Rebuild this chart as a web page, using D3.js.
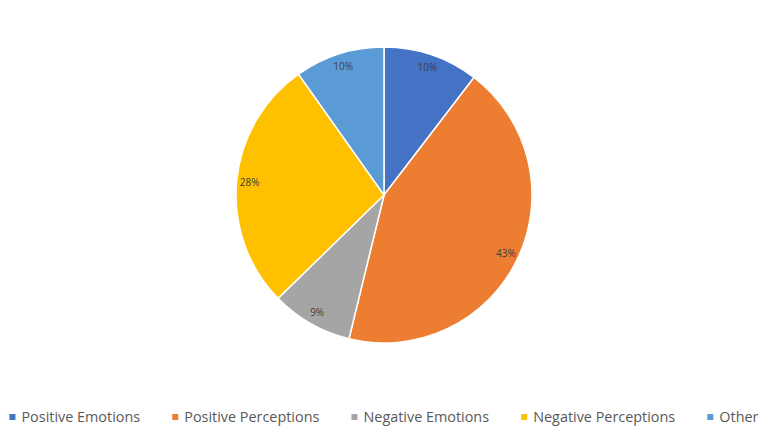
<!DOCTYPE html>
<meta charset="utf-8">
<style>
  body { margin: 0; background: #fff; }
  text { font-family: "Open Sans", "Liberation Sans", Arial, sans-serif; }
</style>
<svg width="768" height="432"></svg>
<script src="https://cdn.jsdelivr.net/npm/d3@7"></script>
<script>
var categories = ["Positive Emotions", "Positive Perceptions", "Negative Emotions", "Negative Perceptions", "Other"];
var values = [10.4, 43.4, 8.9, 27.5, 9.8];
var colors = ["#4472C4", "#ED7D31", "#A5A5A5", "#FFC000", "#5B9BD5"];

var svg = d3.select("svg");
var cx = 384, cy = 195, r = 148;

var data = categories.map(function(c, i) { return { name: c, value: values[i], color: colors[i] }; });
var total = d3.sum(values);

var pie = d3.pie().sort(null).value(function(d) { return d.value; });
var arc = d3.arc().innerRadius(0).outerRadius(r);
var labelArc = d3.arc().innerRadius(135).outerRadius(135);

var g = svg.append("g").attr("transform", "translate(" + cx + "," + cy + ")");

g.selectAll("path")
  .data(pie(data))
  .enter().append("path")
  .attr("d", arc)
  .attr("fill", function(d) { return d.data.color; })
  .attr("stroke", "#fff")
  .attr("stroke-width", 1.5);

g.selectAll("text.lbl")
  .data(pie(data))
  .enter().append("text")
  .attr("class", "lbl")
  .attr("transform", function(d) { return "translate(" + labelArc.centroid(d) + ")"; })
  .attr("text-anchor", "middle")
  .attr("dy", "0.35em")
  .style("font-size", "10px")
  .style("fill", "#404040")
  .text(function(d) { return Math.round(d.data.value / total * 100) + "%"; });

// legend, laid out from measured text widths and centred
var legend = svg.append("g");
var items = legend.selectAll("g")
  .data(data)
  .enter().append("g");

items.append("rect")
  .attr("width", 6).attr("height", 6)
  .attr("y", -8)
  .attr("fill", function(d) { return d.color; });

items.append("text")
  .attr("x", 12)
  .style("font-size", "14.4px")
  .style("fill", "#595959")
  .text(function(d) { return d.name; });

var gap = 32, x = 0;
items.each(function() {
  var w = this.getBBox().width;
  d3.select(this).attr("transform", "translate(" + x + ",0)");
  x += w + gap;
});
var width = x - gap;
legend.attr("transform", "translate(" + ((768 - width) / 2) + ",422)");
</script>
